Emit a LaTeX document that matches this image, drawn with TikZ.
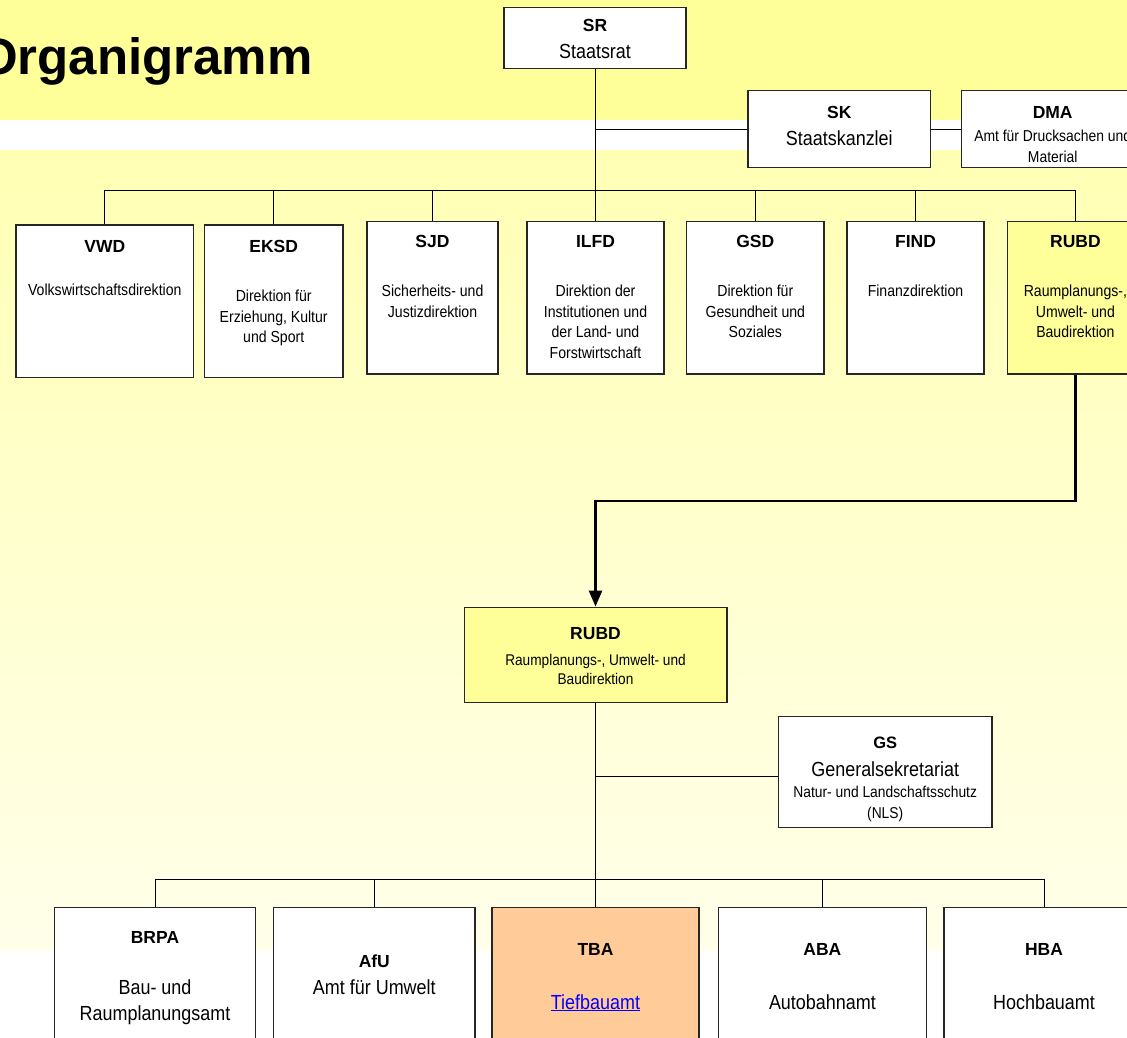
\documentclass[tikz,border=0pt]{standalone}
\usepackage{fontspec}
\setmainfont{Liberation Sans}
\newfontfamily\narrowfont{Liberation Sans}[FakeStretch=0.88]
\usetikzlibrary{arrows.meta}

\definecolor{bandgelb}{RGB}{255,255,153}
\definecolor{blassoben}{RGB}{255,255,180}
\definecolor{blassunten}{RGB}{255,255,234}
\definecolor{rubdgelb}{RGB}{255,255,153}
\definecolor{tbaorange}{RGB}{255,204,153}
\definecolor{linkblau}{RGB}{0,0,255}

\tikzset{
    orgbox/.style={draw=black!85, line width=1.5pt, fill=white, inner sep=0pt},
    kurz/.style={font=\fontsize{17.5}{20}\selectfont\bfseries, inner sep=0pt},
    klein/.style={font=\narrowfont\fontsize{16}{20.5}\selectfont, align=center, inner sep=0pt, anchor=north},
    mittel/.style={font=\narrowfont\fontsize{20.4}{26}\selectfont, align=center, inner sep=0pt, anchor=north},
    linie/.style={line width=0.8pt, draw=black},
    pfeil/.style={line width=2.6pt, -{Triangle[length=16pt,width=13pt]}},
}

\begin{document}
\begin{tikzpicture}[x=1pt,y=-1pt]
        \useasboundingbox (0,0) rectangle (1127,1038);
        % Hintergrund
        \fill[white] (0,0) rectangle (1127,1038);
        \fill[bandgelb] (0,0) rectangle (1127,120);
        \shade[top color=blassoben, bottom color=blassunten] (0,150.7) rectangle (1127,950);
        \node[font=\fontsize{51}{51}\selectfont\bfseries, anchor=base west, inner sep=0pt] (titel) at (-22,75) {Organigramm};

        % Staatsrat und Staatskanzlei
        \node[orgbox, minimum width=182pt, minimum height=61pt] (sr) at (595,37.8) {};
        \node[kurz] (sr-kurz) at (595,25.7) {SR};
        \node[mittel] (sr-name) at (595,44.1) {Staatsrat};

        \node[orgbox, minimum width=182.7pt, minimum height=76.6pt] (sk) at (839.3,129) {};
        \node[kurz] (sk-kurz) at (839.3,112.7) {SK};
        \node[mittel] (sk-name) at (839.3,130.4) {Staatskanzlei};

        \node[orgbox, minimum width=182.7pt, minimum height=76.6pt] (dma) at (1052.7,129) {};
        \node[kurz] (dma-kurz) at (1052.7,112.7) {DMA};
        \node[klein, font=\narrowfont\fontsize{15.8}{20.7}\selectfont] (dma-name) at (1052.7,130.1) {Amt für Drucksachen und\\Material};

        % Direktionen
        \foreach \n/\x/\w/\yt in {
            vwd/104.8/177.6/224.3,
            eksd/273.7/138.3/224.3,
            sjd/432.5/131.4/220.7,
            ilfd/595.5/137.4/220.7,
            gsd/755.3/137.4/220.7,
            find/915.5/137.4/220.7
            } {
            \node[orgbox, minimum width=\w pt, minimum height=152.5pt, anchor=north] (\n) at (\x,\yt) {};
        }
        \node[orgbox, fill=rubdgelb, minimum width=136pt, minimum height=152.5pt, anchor=north] (rubd) at (1075.4,220.7) {};
        \node[kurz] (vwd-kurz) at (104.8,246) {VWD};
        \node[kurz] (eksd-kurz) at (273.7,246) {EKSD};
        \node[kurz] (sjd-kurz) at (432.5,241.7) {SJD};
        \node[kurz] (ilfd-kurz) at (595.5,241.7) {ILFD};
        \node[kurz] (gsd-kurz) at (755.3,241.7) {GSD};
        \node[kurz] (find-kurz) at (915.5,241.7) {FIND};
        \node[kurz] (rubd-kurz) at (1075.4,241.7) {RUBD};
        \node[klein] (vwd-name) at (104.8,283.4) {Volkswirtschaftsdirektion};
        \node[klein] (eksd-name) at (273.7,289.8) {Direktion für\\Erziehung, Kultur\\und Sport};
        \node[klein] (sjd-name) at (432.5,284.8) {Sicherheits- und\\Justizdirektion};
        \node[klein] (ilfd-name) at (595.5,284.8) {Direktion der\\Institutionen und\\der Land- und\\Forstwirtschaft};
        \node[klein] (gsd-name) at (755.3,284.8) {Direktion für\\Gesundheit und\\Soziales};
        \node[klein] (find-name) at (915.5,284.8) {Finanzdirektion};
        \node[klein] (rubd-name) at (1075.4,284.8) {Raumplanungs-,\\Umwelt- und\\Baudirektion};

        \coordinate (obenbus) at (595,190);
        \draw[linie] (sr.south) -- (obenbus);
        \draw[linie] (sk.west) -- (sk.west -| sr.south);
        \draw[linie] (sk) -- (dma);
        \draw[linie] (vwd.north |- obenbus) -- (rubd.north |- obenbus);
        \foreach \n in {vwd,eksd,sjd,ilfd,gsd,find,rubd}
            \draw[linie] (\n.north) -- (\n.north |- obenbus);

        % RUBD mit Generalsekretariat
        \node[orgbox, fill=rubdgelb, minimum width=262.5pt, minimum height=95.4pt] (rubdmid) at (595.5,655) {};
        \node[kurz] (rubdmid-kurz) at (595.5,634) {RUBD};
        \node[klein, font=\narrowfont\fontsize{15.5}{19}\selectfont] (rubdmid-name) at (595.5,654) {Raumplanungs-, Umwelt- und\\Baudirektion};
        \coordinate (knick) at (1075.4,501);
        \draw[pfeil] (rubd.south) -- (knick) -| (rubdmid.north);

        \node[orgbox, minimum width=213.2pt, minimum height=110.6pt] (gs) at (885.2,772) {};
        \node[kurz, font=\fontsize{16.5}{20}\selectfont\bfseries] (gs-kurz) at (885.2,743.3) {GS};
        \node[mittel] (gs-name) at (885.2,761.7) {Generalsekretariat};
        \node[klein, font=\narrowfont\fontsize{15.7}{20.7}\selectfont] (gs-nls) at (885.2,786.1) {Natur- und Landschaftsschutz\\(NLS)};

        % Aemter
        \foreach \n/\x/\w in {
            brpa/155/201.4,
            afu/374.3/201.4,
            aba/822.4/208,
            hba/1044/200
            } {
            \node[orgbox, minimum width=\w pt, minimum height=160pt, anchor=north] (\n) at (\x,906.7) {};
        }
        \node[orgbox, fill=tbaorange, minimum width=207.4pt, minimum height=160pt, anchor=north] (tba) at (595.5,906.7) {};
        \node[kurz] (brpa-kurz) at (155,937.3) {BRPA};
        \node[kurz] (afu-kurz) at (374.3,961.7) {AfU};
        \node[kurz] (tba-kurz) at (595.5,949.3) {TBA};
        \node[kurz] (aba-kurz) at (822.4,949.3) {ABA};
        \node[kurz] (hba-kurz) at (1044,949.3) {HBA};
        \node[mittel] (brpa-name) at (155,979.7) {Bau- und\\Raumplanungsamt};
        \node[mittel] (afu-name) at (374.3,979.7) {Amt für Umwelt};
        \node[mittel, text=linkblau] (tba-name) at (595.5,994.1) {\underline{Tiefbauamt}};
        \node[mittel] (aba-name) at (822.4,994.1) {Autobahnamt};
        \node[mittel] (hba-name) at (1044,994.1) {Hochbauamt};

        \coordinate (untenbus) at (595.5,879.3);
        \draw[linie] (rubdmid.south) -- (tba.north);
        \draw[linie] ([yshift=-4.7pt]gs.west) -- ([yshift=-4.7pt]gs.west -| rubdmid.south);
        \draw[linie] (brpa.north |- untenbus) -- (hba.north |- untenbus);
        \foreach \n in {brpa,afu,aba,hba}
            \draw[linie] (\n.north) -- (\n.north |- untenbus);
    \end{tikzpicture}
\end{document}
